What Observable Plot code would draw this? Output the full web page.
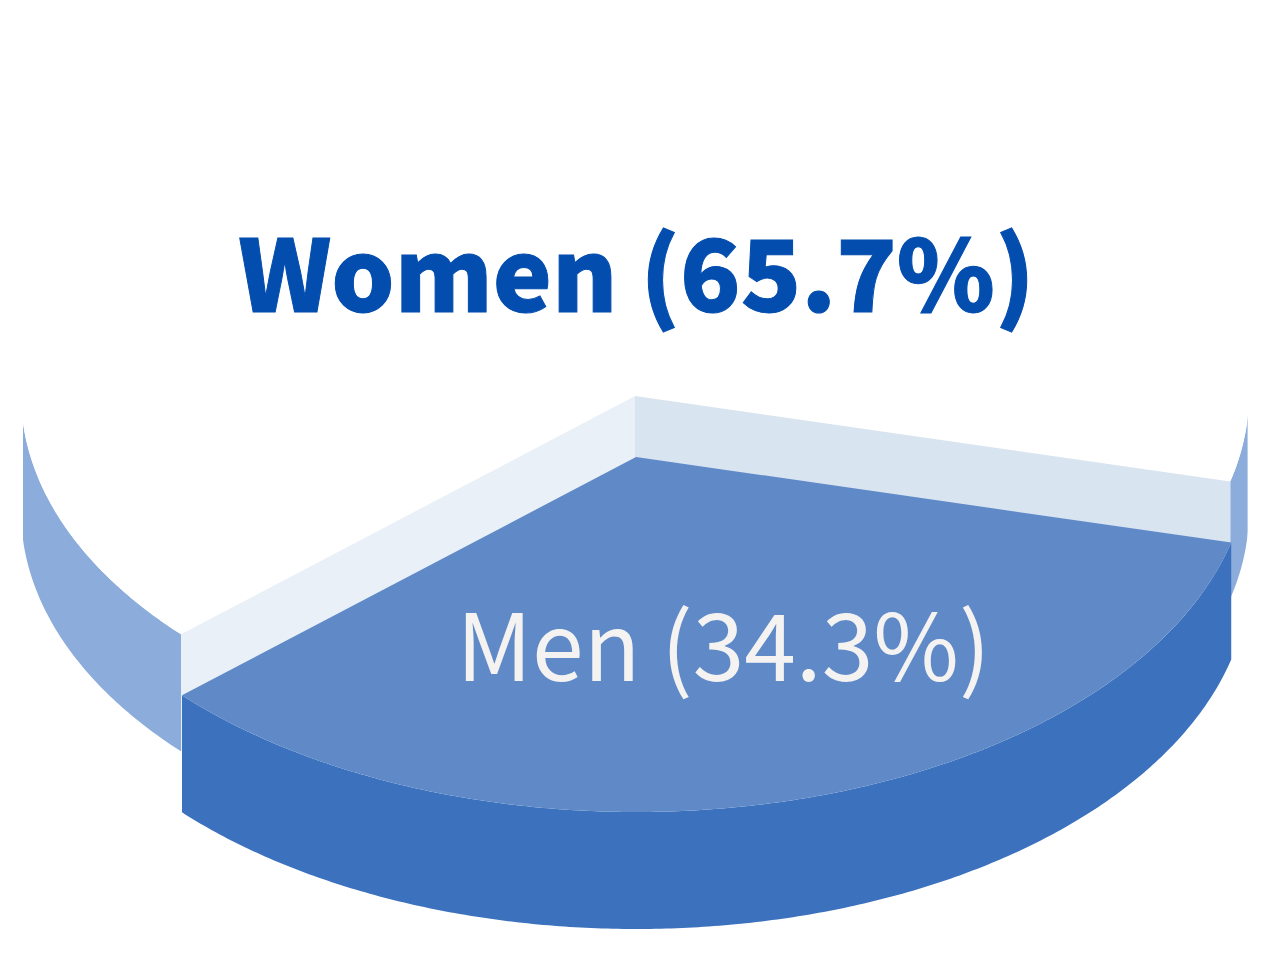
<!DOCTYPE html>
<html>
<head>
<meta charset="utf-8">
<script src="https://cdn.jsdelivr.net/npm/d3@7"></script>
<script src="https://cdn.jsdelivr.net/npm/@observablehq/plot@0.6"></script>
<style>
  html, body { margin: 0; padding: 0; background: #fff; }
  svg { display: block; }
</style>
</head>
<body>
<div id="chart"></div>
<script>
// Data
const categories = ["Women", "Men"];
const shares = [65.7, 34.3];
const labels = categories.map((c, i) => `${c} (${shares[i]}%)`);

// Pie layout, in pie units (1 = one horizontal or vertical radius)
const startDeg = 14.2;                // where the Men slice begins
const thickness = 117 / 357;          // height of the side wall
const womenLift = { dx: -1 / 614, dy: -61 / 357 }; // Women slice is pulled back
const apexDrop = 2 / 357;

const rad = d => d * Math.PI / 180;
const span = s => s / 100 * 360;
const menStart = startDeg;
const menEnd = menStart + span(shares[1]);
const womenStart = menEnd;
const womenEnd = womenStart + span(shares[0]);

function rim(from, to, off = { dx: 0, dy: 0 }) {
  const steps = Math.ceil(Math.abs(to - from) * 2);
  return d3.range(steps + 1).map(i => {
    const a = rad(from + (to - from) * i / steps);
    return { x: off.dx + Math.cos(a), y: off.dy + Math.sin(a) };
  });
}
const band = pts => pts.map(p => ({ x1: p.x, y1: p.y, x2: p.x, y2: p.y + thickness }));
const fan = (pts, off = { dx: 0, dy: 0 }) =>
  pts.map(p => ({ x1: off.dx, y1: off.dy + apexDrop, x2: p.x, y2: p.y }));
const wall = (end, off) => {
  const a = { x: off.dx, y: off.dy + apexDrop };
  return band([a, end]);
};

const womenRim = rim(womenStart, womenEnd, womenLift);
const menRim = rim(menStart, menEnd);
const womenSide = womenRim.filter(p => p.y >= womenLift.dy);
const womenLeft = womenSide.filter(p => p.x < womenLift.dx);
const womenRight = womenSide.filter(p => p.x > womenLift.dx);

const area = (d, fill, clip = true) =>
  Plot.area(d, { x1: "x1", y1: "y1", x2: "x2", y2: "y2", fill, clip });

const chart = Plot.plot({
  width: 1274,
  height: 964,
  marginLeft: 23,
  marginRight: 26.4,
  marginTop: 0,
  marginBottom: 0,
  style: { background: "#ffffff", overflow: "visible" },
  x: { domain: [(23 - 636) / 614, (1247.6 - 636) / 614], range: [23, 1247.6], axis: null },
  y: { domain: [-455 / 357, (964 - 455) / 357], range: [0, 964], axis: null },
  marks: [
    area(band(womenLeft), "#8CACDB"),
    area(band(womenRight), "#8CACDB"),
    area(fan(womenRim, womenLift), "#FFFFFF"),
    area(wall(womenRim[0], womenLift), "#EAF0F8"),
    area(wall(womenRim[womenRim.length - 1], womenLift), "#D9E4F1"),
    area(band(menRim), "#3B71BD"),
    area(fan(menRim), "#5F8AC7"),
    Plot.text([labels[0]], {
      text: d => d, frameAnchor: "top-left", dx: 613, dy: 240.5, textAnchor: "middle",
      fontFamily: "Noto Sans CJK KR", fontWeight: 900, fontSize: 99.5, fill: "#034DAF",
      stroke: "#034DAF", strokeWidth: 1, strokeLinejoin: "miter"
    }),
    Plot.text([labels[1]], {
      text: d => d, frameAnchor: "top-left", dx: 700, dy: 614, textAnchor: "middle",
      fontFamily: "Noto Sans CJK KR", fontWeight: 400, fontSize: 93, fill: "#F4F3F2"
    })
  ]
});
document.getElementById("chart").appendChild(chart);
</script>
</body>
</html>
